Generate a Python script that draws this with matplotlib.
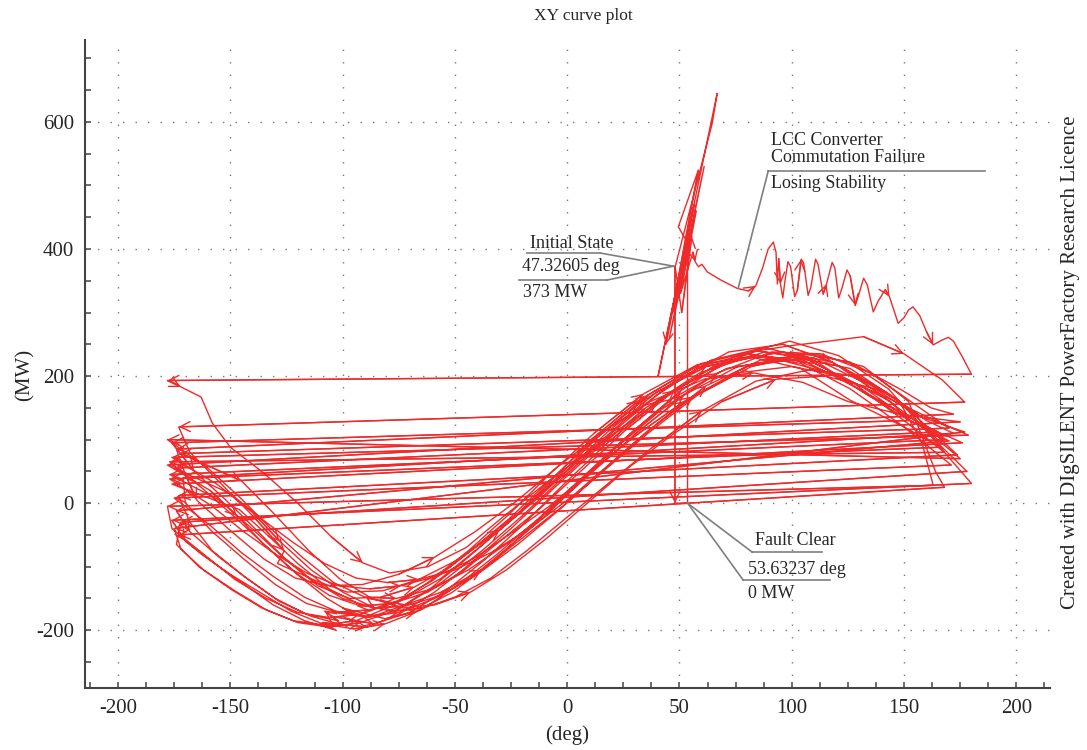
import numpy as np
import matplotlib
matplotlib.use('Agg')
import matplotlib.pyplot as plt

# ---- data (deg, MW) ----
# initial state + fault (power drops to 0) + fault clear
fault_deg = [47.3, 48.0, 48.0, 53.6]
fault_mw = [373, 372, 0, 0]

# after clearing: commutation failure spikes
spike_deg = [53.6, 49.5, 58.4, 44.0, 56.5, 40.5, 66.8, 64.6, 48.1, 51.0, 55.5, 45.5,
             61.0, 47.0, 57.5, 50.5, 56.0, 57.0, 58.5, 60.0, 62.4, 68.0, 75.7, 80.6]
spike_mw = [410, 435, 524, 250, 470, 200, 645, 598, 372, 300, 420, 260,
            530, 300, 460, 330, 395, 380, 372, 376, 364, 352, 338, 334]

# losing stability oscillation
ls_deg = [84.0, 87.0, 89.5, 91.8, 93.0, 93.6, 94.2, 95.0, 96.0, 97.0, 98.3,
          99.5, 101.3, 102.5, 104.2, 105.3, 107.3, 108.5, 110.6, 111.7, 114.0,
          115.5, 118.0, 119.2, 120.9, 122.5, 124.6, 126.0, 128.3, 130.0, 132.0,
          133.6, 136.3, 138.5, 141.6, 143.5, 147.4, 150.0, 152.0, 154.0, 157.0,
          160.0, 163.0, 166.0, 169.7, 172.0, 176.0, 180.0]
ls_mw = [342, 370, 400, 411, 395, 345, 385, 345, 323, 350, 380,
         372, 325, 335, 384, 378, 327, 340, 384, 376, 329,
         345, 379, 370, 323, 340, 367, 358, 311, 330, 354,
         344, 301, 318, 336, 325, 283, 292, 304, 309, 295,
         270, 249, 255, 261, 255, 230, 203]

# pole slips, one list per cycle (angle wraps from +180 to -180)
slip_deg = [
    [-178, -172, -163, -158, -150, -135, -120, -105, -91, -79, -62, -45, -28, -10, 5, 25, 45, 65, 85, 100, 114, 132, 150, 167, 177],
    [-173, -168, -154, -140, -126, -129, -112, -98, -82, -66, -48, -30, -13, 6, 26, 48, 72, 96, 118, 140, 165, 178.6],
    [-176, -156, -140, -128, -114, -100, -86, -89, -72, -56, -38, -20, -2, 16, 36, 58, 82, 105, 126, 148, 162, 172],
    [-174, -170, -165, -151, -135, -121, -107, -91, -75, -59, -41, -23, -5, 15, 37, 61, 83, 105, 125, 148, 175],
    [-178, -159, -147, -135, -121, -107, -95, -100, -81, -67, -51, -35, -17, 1, 21, 43, 67, 91, 113, 135, 155, 170],
    [-172, -145, -131, -115, -101, -87, -73, -59, -43, -27, -9, 9, 27, 47, 69, 93, 115, 137, 155, 168, 180],
    [-176, -170, -157, -145, -131, -117, -103, -109, -89, -75, -59, -43, -25, -7, 13, 35, 59, 83, 105, 127, 150, 168],
    [-177, -155, -142, -128, -114, -100, -86, -72, -56, -40, -22, -4, 14, 34, 56, 80, 104, 126, 146, 162, 173.7],
    [-173, -168, -158, -144, -130, -116, -102, -108, -88, -72, -56, -38, -20, -2, 18, 40, 64, 88, 110, 134, 165],
    [-175, -150, -136, -122, -108, -94, -80, -66, -50, -34, -16, 2, 20, 40, 62, 86, 110, 132, 152, 164, 168],
    [-173, -163, -151, -137, -123, -109, -95, -81, -65, -49, -31, -13, 5, 25, 47, 71, 95, 117, 140, 160, 176],
    [-176, -146, -132, -120, -106, -92, -78, -64, -50, -34, -18, 0, 18, 38, 60, 84, 108, 128, 148, 158, 163],
    [-178, -176, -162, -148, -134, -120, -106, -92, -76, -60, -44, -26, -8, 12, 34, 58, 82, 104, 126, 150, 171],
    [-175, -159, -145, -131, -117, -103, -89, -75, -59, -43, -27, -9, 9, 29, 51, 75, 99, 121, 143, 162, 178],
    [-172, -174, -164, -150, -136, -122, -108, -94, -78, -62, -44, -26, -8, 12, 34, 58, 82, 104, 126, 150, 166],
    [-177, -158, -144, -130, -116, -102, -88, -74, -58, -42, -26, -8, 10, 30, 52, 76, 100, 122, 144, 152],
    [-176, -166, -152, -139, -125, -111, -97, -83, -68, -52, -36, -18, 0, 18, 40, 62, 86, 110, 132, 152, 170],
    [-174, -168, -155, -142, -128, -114, -100, -105, -86, -70, -54, -37, -20, -2, 18, 40, 64, 88, 110, 132, 155, 175],
    [-178, -160, -146, -132, -118, -104, -90, -76, -60, -44, -26, -8, 10, 30, 52, 76, 100, 122, 142, 160, 172],
    [-171, -170, -158, -144, -130, -116, -102, -88, -72, -56, -40, -22, -4, 14, 36, 60, 84, 106, 128, 150, 168],
    [-177, -162, -148, -134, -120, -106, -92, -78, -62, -46, -30, -12, 6, 26, 48, 72, 96, 118, 140, 158, 177],
    [-175, -172, -162, -148, -134, -120, -106, -92, -76, -60, -44, -26, -8, 10, 32, 56, 80, 102, 124, 140],
]
slip_mw = [
    [193, 183, 167, 126, 88, 47, 0, -53, -94, -110, -100, -70, -20, 30, 70, 120, 170, 215, 240, 248, 254, 262, 235, 194, 159],
    [120, 80, 30, -20, -75, -95, -122, -140, -138, -120, -88, -42, 8, 70, 132, 192, 238, 250, 222, 170, 128, 107],
    [72, 30, -15, -60, -105, -140, -165, -150, -160, -140, -105, -55, -5, 50, 110, 170, 215, 235, 222, 180, 150, 140],
    [85, 45, 5, -40, -88, -118, -130, -128, -112, -85, -45, 2, 55, 110, 160, 195, 205, 190, 160, 140, 128],
    [60, 20, -20, -65, -110, -150, -175, -165, -182, -170, -140, -98, -40, 20, 85, 150, 205, 238, 235, 205, 155, 118],
    [78, 35, -15, -75, -120, -150, -165, -160, -140, -105, -55, 0, 55, 108, 160, 195, 200, 180, 140, 80, 31],
    [-27, -60, -95, -125, -160, -185, -200, -188, -195, -175, -140, -95, -40, 20, 85, 150, 205, 232, 225, 185, 135, 100],
    [45, 5, -35, -80, -120, -150, -165, -162, -145, -112, -65, -12, 45, 108, 168, 215, 228, 212, 165, 115, 76],
    [12, -30, -75, -115, -150, -175, -185, -170, -180, -160, -125, -75, -20, 40, 105, 170, 225, 245, 225, 170, 112],
    [55, 15, -25, -62, -95, -118, -125, -120, -105, -78, -38, 10, 65, 125, 185, 225, 235, 215, 160, 50, 25],
    [-50, -80, -110, -140, -170, -190, -198, -190, -168, -130, -80, -25, 35, 100, 165, 212, 225, 205, 160, 120, 95],
    [30, -10, -55, -95, -135, -160, -170, -165, -148, -118, -75, -22, 30, 88, 145, 192, 210, 200, 160, 95, 28],
    [-5, -40, -80, -120, -150, -172, -180, -175, -155, -122, -78, -25, 35, 100, 162, 212, 232, 220, 180, 120, 60],
    [8, -35, -78, -115, -148, -170, -178, -172, -150, -118, -72, -18, 45, 112, 178, 232, 255, 232, 180, 105, 50],
    [-30, -65, -100, -135, -165, -185, -192, -185, -162, -125, -75, -18, 45, 110, 172, 218, 230, 212, 162, 120, 88],
    [38, -5, -45, -80, -110, -130, -135, -130, -115, -88, -50, -5, 48, 105, 160, 205, 215, 200, 160, 130],
    [95, 50, 5, -40, -90, -130, -150, -148, -132, -100, -55, -5, 52, 112, 175, 215, 232, 220, 182, 132, 98],
    [-12, -45, -85, -120, -155, -178, -192, -178, -190, -172, -138, -90, -35, 28, 95, 160, 212, 238, 228, 190, 130, 70],
    [100, 55, 10, -40, -85, -125, -148, -150, -135, -105, -62, -12, 45, 108, 170, 215, 230, 215, 175, 130, 110],
    [40, 0, -45, -88, -128, -158, -172, -168, -150, -118, -72, -18, 42, 105, 170, 220, 240, 228, 188, 130, 80],
    [65, 22, -22, -68, -112, -145, -162, -158, -140, -106, -60, -8, 50, 115, 178, 222, 238, 222, 178, 135, 112],
    [-40, -72, -105, -138, -168, -188, -195, -188, -168, -132, -85, -30, 32, 98, 162, 212, 235, 225, 195, 170],
]

x_ticks = [-200, -150, -100, -50, 0, 50, 100, 150, 200]
y_ticks = [-200, 0, 200, 400, 600]

RED = '#ee2a2a'
GREY = '#7f7f7f'
TXT = '#262626'


def main():
    plt.rcParams['font.family'] = 'serif'
    plt.rcParams['font.serif'] = ['Liberation Serif', 'DejaVu Serif']
    plt.rcParams['axes.unicode_minus'] = False

    fig = plt.figure(figsize=(10.87, 7.5), dpi=100)
    ax = fig.add_axes([85/1087, 62/750, 965/1087, 648/750])

    # whole trajectory
    deg = list(fault_deg) + list(spike_deg) + list(ls_deg)
    mw = list(fault_mw) + list(spike_mw) + list(ls_mw)
    for d, p in zip(slip_deg, slip_mw):
        deg += d
        mw += p
    deg = np.array(deg, dtype=float)
    mw = np.array(mw, dtype=float)

    ax.plot(deg, mw, color=RED, lw=1.0, zorder=3)

    # arrow heads along the curve
    arrow_idx = [2]
    for i in range(1, len(deg)):
        if deg[i-1] - deg[i] > 250:      # wrap from +180 to -180
            arrow_idx.append(i)
        elif i % 7 == 0 and i > 4:
            arrow_idx.append(i)
    for i in arrow_idx:
        ax.annotate('', xy=(deg[i], mw[i]), xytext=(deg[i-1], mw[i-1]),
                    arrowprops=dict(arrowstyle='->', color=RED, lw=1.0,
                                    mutation_scale=18, shrinkA=0, shrinkB=0),
                    zorder=3)

    ax.set_xlim(-214.7, 215)
    ax.set_ylim(-291, 729)
    ax.set_xticks(x_ticks)
    ax.set_yticks(y_ticks)
    ax.set_xticks(np.arange(-212.5, 215, 12.5), minor=True)
    ax.set_yticks(np.arange(-250, 729, 50), minor=True)
    ax.tick_params(which='both', direction='in', length=4, width=1.1,
                   colors='#444444', labelcolor=TXT, labelsize=15, pad=8)
    ax.grid(which='major', color='#777777', lw=1.0, linestyle=(0, (1, 8)))
    for s in ['top', 'right']:
        ax.spines[s].set_visible(False)
    for s in ['left', 'bottom']:
        ax.spines[s].set_color('#444444')
        ax.spines[s].set_linewidth(1.5)

    # labels
    fig.text(583/1087, 1 - 16/750, 'XY curve plot', ha='center', va='center',
             fontsize=12.5, color=TXT)
    fig.text(567/1087, 1 - 735/750, '(deg)', ha='center', va='center',
             fontsize=15, color=TXT)
    fig.text(25/1087, 1 - 375/750, '(MW)', ha='center', va='center',
             rotation=90, fontsize=15, color=TXT)
    fig.text(1070/1087, 1 - 362/750,
             'Created with DIgSILENT PowerFactory Research Licence',
             ha='center', va='center', rotation=90, fontsize=15, color=TXT)

    # callouts (pixel -> data helpers)
    def dx(px):
        return (px - 567) / 2.245

    def dy(py):
        return (503 - py) / 0.635

    def seg(x0, y0, x1, y1):
        ax.plot([x0, x1], [y0, y1], color=GREY, lw=1.2, zorder=4,
                clip_on=False)

    fs = 13
    # Initial state
    px, py = fault_deg[0], fault_mw[0]
    ax.text(dx(572), dy(243), 'Initial State', ha='center', va='center',
            fontsize=fs, color=TXT)
    seg(dx(527), dy(253), dx(600), dy(253))
    seg(dx(600), dy(253), px, py)
    ax.text(dx(522), dy(266), '47.32605 deg', ha='left', va='center',
            fontsize=fs, color=TXT)
    seg(dx(519), dy(280), dx(607), dy(280))
    seg(dx(607), dy(280), px, py)
    ax.text(dx(523), dy(292), '373 MW', ha='left', va='center',
            fontsize=fs, color=TXT)

    # LCC commutation failure
    ax.text(dx(771), dy(149), 'LCC Converter\nCommutation Failure',
            ha='left', va='center', fontsize=fs, color=TXT, linespacing=0.95)
    seg(dx(768), dy(171), dx(985), dy(171))
    seg(dx(768), dy(171), dx(738), dy(288))
    ax.text(dx(771), dy(184), 'Losing Stability', ha='left', va='center',
            fontsize=fs, color=TXT)

    # Fault clear
    cx, cy = fault_deg[-1], fault_mw[-1]
    ax.text(dx(795), dy(540), 'Fault Clear', ha='center', va='center',
            fontsize=fs, color=TXT)
    seg(dx(752), dy(552), dx(822), dy(552))
    seg(dx(752), dy(552), cx, cy)
    ax.text(dx(748), dy(569), '53.63237 deg', ha='left', va='center',
            fontsize=fs, color=TXT)
    seg(dx(743), dy(580), dx(830), dy(580))
    seg(dx(743), dy(580), cx, cy)
    ax.text(dx(748), dy(593), '0 MW', ha='left', va='center',
            fontsize=fs, color=TXT)

    plt.savefig('out.png', dpi=100)


if __name__ == '__main__':
    main()
